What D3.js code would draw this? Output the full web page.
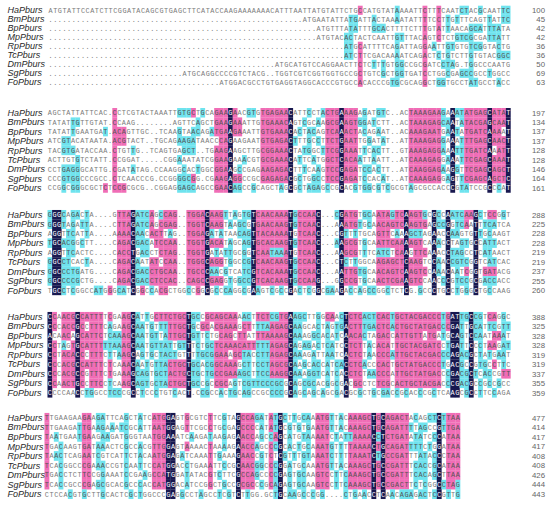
<!DOCTYPE html>
<html>
<head>
<meta charset="utf-8">
<script src="https://cdn.jsdelivr.net/npm/d3@7.9.0/dist/d3.min.js"></script>
<style>
  body { margin: 0; background: #fff; }
</style>
</head>
<body>
<svg id="chart" width="550" height="505"></svg>
<script>
const rowNames = ['HaPburs', 'BmPburs', 'BpPburs', 'MpPburs', 'RpPburs', 'TcPburs', 'DmPburs', 'SgPburs', 'FoPburs'];
const gap = n => '.'.repeat(n);

// block 1
const seq1 = [
  'ATGTATTCCATCTTCGGATACAGCGTGAGCTTCATACCAAGAAAAAAA' + 'CATTTAATTATGTATTCTGCCATGTATAAAATTCTTTCAATCTACGCAATTC',
  gap(55) + 'ATGAATATTATGATTACTAAAATATTTTCCTTGTTTCAGTTATTC',
  gap(58) + 'ATGTTTATATTTGCACTTTTCTTTGTATTAACAGCATTTATA',
  gap(58) + 'ATGTACACTACTCAATTGTTTACAGTCTCTGTCGCGATTATT',
  gap(64) + 'ATGCATTTTCAGATTAGGAATTGTGTGTCGGTACTG',
  gap(64) + 'ATCTTCGACAAAATCAGACTCTGTCTTGTGTACGGC',
  gap(49) + 'ATGCATGTCCAGGAACTTCTCTTTGTGGCCGCGATCCTAG.TGGCCCAATG',
  gap(29) + 'ATGCAGGCCCCGTCTACG..' + 'TGGTCGTCGGTGGTGCCGCTGTCGCTGGTGATCCTGGCGAGCCGCCTGGCC',
  gap(37) + 'ATGGACGCCTG' + 'TGAGGTAGGCACCCGTGCCACACCCGTGCGCAGGCTGGTGCCTATGCCTACC'
];
const shade1 = [
  '67p 75c 81p 84p 89-90c 93c 98-99c',
  '65-66c 70c 75c 81p 84p 86c 88c 95c 98-99c',
  '65-66c 70-72c 81p 84p 86c 91-93c 95-97c',
  '64-65c 75-76c 81p 84p 88-91c 95-97c',
  '64-65c 67p 75c 81p 83c 86-87c 91-93c 97c',
  '64-65c 67p 75c 81p 84c 86c 91c 97-99c',
  '67p 70c 72c 75-76c 81p 85-87c 91c',
  '67p 72c 75-76c 81p 86c 89-91c 95c',
  '67p 74-75c 81p 84-85c 91-92c 97c'
];
const ends1 = [100, 45, 42, 42, 36, 36, 50, 69, 63];

// block 2
const seq2 = [
  'AGCTATTATTCAC.CCTCGTACTAAATTGTGCTGCAGAAGAACGTGTG' + 'AGAACATTCCTACTGAAAGAGATGTC..ACTAAAGAAGAAATATGAGCATAT',
  'TATATTGTTGTAT.CCAAG........AGTTCAGCTGAAGAAATTGTG' + 'AAACAGTCGCAAGCGAAGTGGATCTT..ACTAAAGAGCAATATACGAGCAAT',
  'TATATTGAATGAT.ACAGTTGC..TCAAGTAACAGATGAAGAAATTGT' + 'GAAACACTACAGTCAAACTACAGAAT..ACAAAGAATGAATATGATCAAAAT',
  'ATCGTACATAATA.ACGTACT..TGCAGAAGATAACCCAGAAGAATGT' + 'GAGACTTTGCCTTCTGAATTGGATAT..ATTAAAGAGGAAATTTGAGCAACT',
  'TACGTGATACCAA.CTGTTG..TCAGTGAGCT..TGAAGAAGCTTGCG' + 'GAAACTATGGCTTCGGAAATTCACTT..GTAAAGAGGAAATTTGATCAAATT',
  'ACTTGTGTCTATT.CCGGAT.....CGGAAATATCGGAAGAAACGTGC' + 'GAAACATTCATGGCTCACAATTAATT..ATCAAAGAGGAAATTCGAGCAAAT',
  'CCTGAGGGCATTG.CGATATAG.CCAAGGCACTGGCGGAAGCCGAGAA' + 'GAGACTTTCAAGTCCGAGATCCACTT..ATCAAGGAGAAGGTTCGAGCAGCT',
  'CCCGTGGCCCGCC.CTCAACCCG.CCGGGGCGG.CGAAGAGGCCGCGA' + 'GAGACGCTGGCCTCCGAGATCCACAT..ATCAAAGAGGAGTTCGAGCAGCTC',
  'CCGGCGGGCGCTCTCCGCGCG..CGGAGGAGCAGCCGAACAGCCGCAG' + 'CTAGCGCTAGAGCCGCACGTGGCGTCGCGTAGCGCCACCCGTATCCGCCCAT'
];
const shade2 = [
  '14p 28-30c 31p 33c 36-38p 39n 40p 43-44c 46-51p 52n 56c 59c 60-62p 63n 64-66p 68c 71-72c 78-84p 85c 87n 88-89c 90-94p 95n 96-98p 99n',
  '5-6c 14p 32c 36-38p 39n 40-41p 46-51p 52n 55c 58c 60-62p 63n 64-66p 67-68c 70c 78-84p 85-86c 87n 89c 90-94p 95n 96-98p 99n',
  '5c 12c 14-16p 28c 31-32c 35c 36-38p 39n 40-41p 46-51p 52n 54c 56-57c 60-62p 63n 64-66p 68c 71c 78-84p 86c 87n 88c 90-94p 95n 96-97p 99n',
  '3-4c 14-16p 28-31c 37-38p 39n 46-51p 52n 53c 56c 58c 60-62p 63n 64-66p 69c 72c 78-84p 85c 87n 89c 90-94p 95n 96-98p 99n',
  '3-5c 14p 18c 29-31c 36-38p 39n 46-51p 52n 55-56c 59c 60-62p 63n 64-66p 68c 70-71c 78-84p 85c 87n 88-89c 90-94p 95n 97-98p 99n',
  '6c 14p 28c 36-38p 39n 42c 46-51p 52n 54c 57c 60-62p 63n 64-66p 67c 70c 78-84p 86c 87n 89c 90-94p 95n 96-98p 99n',
  '3-6c 14p 18c 29c 32c 36-38p 39n 41c 46-51p 52n 55c 58c 60-62p 63n 64-66p 68-69c 71c 78-84p 85c 87n 88c 90-94p 95n 96-98p 99n',
  '3-6c 14p 28-30c 31p 36-38p 39n 40-41p 46-51p 52n 54c 57-58c 60-62p 63n 64-66p 68c 72c 78-84p 86c 87n 89c 90-94p 95n 96-98p 99n',
  '3c 5-6c 12p 14-16p 28-31c 36-38p 39n 40-41c 44c 50c 52n 54c 56-58c 60c 63n 66c 68-69c 71c 73c 78c 87n 89-90c 95n 97c 99n'
];
const ends2 = [197, 134, 137, 137, 128, 128, 146, 164, 161];

// block 3
const seq3 = [
  'GGGCAGACTA....GTTAGATCAGCCAG..TGGACAAGTTAGTGTCAA' + 'CAAATGCCAAC...CGATGTGCAATAGTCAAGTGCGCCAATCAAGCTCCGGT',
  'GGGTAGATTA....CTTAGATCAGCGAG..TGGTCAAGTAAGCGTGAA' + 'CAAGTGTCAAC...AAATGTGCAACAGTCAAGTGAGCCGGTCAATTTCATCA',
  'AGGTTCATTA....AAAACAACACTTAG..TGGAGATATAACAGTTAC' + 'AAAATGTCAAC...CGTTTTGCAGTTCAAAGCTAGAACCAAGTGTTGCAAGT',
  'TGCACGGCTT....CAGACGACATCCAA..TGGTGACATAGCAGTGCA' + 'CAAGTGTCAAC...AAGCGTGCAATTCAAAAGTCAAACCTAGTGCCATTACT',
  'AGGTTCACTC....CACCTGACCTCTAG..TGGTGATATTGCGGTCAA' + 'TAAATGTCAAC...AAGCGTTTCATCTCAAGTTCAAACCTAGCCTCATAACT',
  'GGCCTCACTA....CAGACAATATCCAA..TGGGCAGGTGGCCGTCAA' + 'CAAGTGCCAAC...CTCTTGGCAAGAGCTCAAGTCCAACCGTCGGTCATCAC',
  'GGCCCTGATG....CAGACGACCTGCAA..TGCCCAACGTCATCGTCA' + 'CAAATGCCAAC...AATTGTGCAACAGTCAAGTCCAAACAATCGGTGATACG',
  'GGCCCCGCTG....CAGACGACCTCCAC..CAGCCGAGGTGGCCGTCA' + 'CAAGTGCCAAG...GGCCGTGCAACTCGAAGTCCAACCCGTCCGCGACCACC',
  'TGCCTCGGCCATGGGCATCGGCCACGCTGGCCGGCGCCCAGGCGAAGT' + 'CGCCGACTCGGCGAAGACCAGCCGGCTCTCG.GCCCTGCCTGGGCTGCCAAG'
];
const shade3 = [
  '0c 1-2n 3c 5-6c 8c 15-17p 18n 19-21c 22p 24c 25-27p 30-33p 34n 35-37p 38c 40c 42-43c 44n 45-51p 52n 53c 54-57p 58n 62c 63n 64-66p 68-69c 71-73p 74c 75-76p 77n 78-80p 81c 83n 84c 86n 87-89c 90-91p 92n 93c 95-96p 98c',
  '0c 1-2n 3c 5c 7-8c 15-17p 18n 19-21c 22p 24-27p 30-33p 34n 35-37p 39c 41-42c 44n 45-51p 52n 53c 54-57p 58n 63n 64-66p 67c 69c 71-76p 77n 78-81p 83n 84-85c 86n 88-89c 90p 92n 94-96c',
  '1-2n 4-5c 8c 15-17p 18n 19-20c 22-24p 26c 30-33p 34n 35c 37c 41-43c 44n 45-51p 52n 54-57p 58n 63n 64c 66c 71-73p 75c 77n 78-80c 83n 86n 87-88c 92n 93c 95c',
  '0c 1-2n 3-5c 7c 15-17p 18n 19-21c 23-27p 30-33p 34n 35-37p 39c 42-43c 44n 45-51p 52n 53c 54-57p 58n 62c 63n 64-66p 68c 71-76p 77n 78-80p 83n 84c 86n 89-90c 92n 94-96c',
  '1-2n 4-5c 15-17p 18n 20-21c 24-27p 30-33p 34n 36c 38-39c 42c 44n 45-47p 48-50c 51p 52n 54-57p 58n 63n 64-66p 68c 71-73c 75-76p 77n 79-81p 83n 86n 87-89c 92n 94-95c',
  '0c 1-2n 3-4c 8c 15-17p 18n 19c 22-23p 25-27p 30-33p 34n 35-37p 39c 42-43c 44n 45-51p 52n 53c 54-57p 58n 63n 64c 66c 71-76p 77n 78-80p 83n 84c 86n 87-90c 92n 95-96c',
  '0c 1-2n 3-6c 15-17p 18n 19-21c 22-27p 30-33p 34n 35-36c 38c 42-43c 44n 45-51p 52n 53c 54-57p 58n 63n 64-66p 67-68c 71-76p 77n 78-81p 83n 84c 86n 88c 90p 92n 94-96p',
  '0c 1-2n 3-6c 15-17p 18n 19-21c 22-27p 30-33p 34n 35-37p 39c 41-43c 44n 45-51p 52n 53c 54-57p 58n 63n 64-66p 68c 71-76p 77n 78-80p 83n 85c 86n 88-90c 92n 94-96c',
  '1-2n 3c 5c 10-11c 13p 15-16c 18n 20p 22c 24-25p 30c 32p 34n 36c 38-39c 42c 44n 45c 48c 50c 52n 54c 56c 58n 60-61c 63n 65c 67c 69-70c 73c 77n 80c 83n 86n 88c 90c 92n 95c'
];
const ends3 = [288, 225, 228, 228, 219, 219, 237, 255, 260];

// block 4
const seq4 = [
  'CCAACGCCATTTTCGAAGCATTGCTTCTGCTGCCGCAGCAAAACTTCT' + 'CGTGAAGCTTGGCAACTCTCACTCACTGCTACGACCCTGATTGCCGTCAGGC',
  'CCCACCGCCTTTCAGAAGCAATGTTTTTGCTGCGCACGAAAGCTTTTA' + 'AGAGCAAGCACTAGTGACTTTGACTCACTGCTATGACCCGATTGCATTCGTT',
  'ACAACAGCATTCTCAAAGCAATGTTATTGCTGTTCTGCAGCTTATTTA' + 'AAAGCAAAGGCACATCAACACTAGACCATTGTTATGATGCAGTCCAATAAAT',
  'CCTAGTGCATTTTTAAAGCAATGTTATTGTTTCTGCTCAAACATTTTT' + 'AGAGCAGAGACTCATCCTCTTACACATTGCTACGATCCTGATTCCCTAAGAT',
  'CCTACACCCTTTCTTAAGCAGTGCTACTGTTTTGCGGAAAGCTACCTT' + 'AGAGCAAAGATTAATCACTCTAACCCATTGCTACGACCCAGACGCTATGAAT',
  'CCCACGCCATTTCTCAAACAATGTTACTGCTGCACGGCAAAGCTTCCT' + 'AGCGCAAGCACCATCACCTCACCCACTGCTATGACCCTGACGCCGTGCCTTC',
  'CCCACGCCGTTTCTGAAAGCAGTGCTACTGCTGCTGCCGAAAGCTTCC' + 'AAGGCAAAGGTCATCACCTCTAACCCATTGCTATGACCCGACGCTCACCGTT',
  'CCAACTGCCTTCCTCAAGCAGTGCTACTGCTGCCGCCGCAGTCGTTCC' + 'CGCGCAGCGCACGGCGACGCCTCTCGCACTGCTACGACCCGACGCCGCCGCC',
  'CCCCAACCTGGCCTCCCGCCTCCCTGTCACT.CCGCCACTGCAGCCGC' + 'CCCGCAGCAGCAGCGACGCGCTGCGACCGCACCCGCTCAAGCGCCTTCCAGA'
];
const shade4 = [
  '0n 1p 3-5p 6n 7p 8-11p 13p 16-17p 18n 19c 21c 23-25p 26-29p 30n 31-32c 34-35p 36-40p 42-43c 45-47p 48-49c 50-51p 52n 53c 54-55c 58c 60-61p 63c 64n 65-67p 68-70c 71-73p 74c 75-84p 85c 86p 87-88n 89-90c 91n 92-93c 95-96p 98c',
  '0n 1p 3-5p 6n 7p 9-11p 13c 16-17p 18n 19-20c 22c 24-25c 26-29p 30n 31c 33-34p 36-40p 42-43p 45-47c 48-51p 52n 53c 54c 58c 60c 62-63c 64n 65-67p 68-70c 71-73p 74c 75-84p 85c 86p 87-88n 89c 91n 92-93c 95-96c 98-99c',
  '0n 3-4p 6n 7p 8-11p 13-15c 16-17p 18n 19-20c 22-23c 25c 26-29p 30n 31-32c 34c 37-39p 41-42p 45-47p 48-51p 52n 53-54c 57-58c 60c 62c 64n 65-67p 68c 71-73p 75-80p 82-83p 85c 87-88n 89c 91n 92-93c 96-97p 98c',
  '0n 1p 3c 5p 6n 7p 8-11p 12-15c 16-17p 18n 19-20c 22-25c 26c 28-29c 30n 32c 34-35c 36-40p 41-44p 45-47c 48-51p 52n 53c 55-56c 58c 60-61c 64n 65-67p 69c 71-73p 75-84p 86c 87-88n 89c 91n 93c 95-96p 98-99c',
  '0n 1p 3-5p 6n 7p 9-11p 13c 15c 16-17p 18n 20c 22c 24-25c 26-27c 30n 32-35c 36-38p 40-41p 42-43c 45-47c 48-51p 52n 53-54c 57c 60-61c 64n 65-67p 69c 71-73p 74c 75-84p 85-86c 87-88n 89-90c 91n 93c 95c 97-98c',
  '0n 1p 3-5p 6n 7p 8-11p 13p 16-17p 18n 19c 21c 23-25c 26-29p 30n 31-32c 34-35c 36-40p 42-43c 45-47c 48-51p 52n 53c 55c 57-58c 60c 62-63c 64n 65-67p 68c 71-73p 75-84p 85c 87-88n 89c 91n 93-94c 96p 98c',
  '0n 1p 3-5p 6n 7p 9-11p 13p 16-17p 18n 19-21c 23-25c 26-29p 30n 31-32c 34-35c 36-40p 41-43c 45-47c 48-51p 52n 53-54c 56-58c 60c 62c 64n 65-67p 69-70c 71-73p 75-84p 86c 87-88n 89-90c 91n 92c 94-95c 98-99p',
  '0n 1p 3-5p 6n 7p 9-11p 13c 16-17p 18n 19-21c 23-25c 26-29p 30n 31-32c 34c 36-38p 40c 42-44c 45-47c 48-50c 52n 53c 55-57c 60c 62c 64n 66-67p 71-73p 75-84p 86c 87-88n 89-90c 91n 93c 95c 97c',
  '0n 6n 8-9c 13-15c 18n 20c 23c 27c 30n 33-34c 37c 39-40c 42-43c 48-50c 52n 53c 55c 57c 59c 62c 64n 67c 70c 72-73c 75c 77c 80c 83c 87-88n 90c 91n 93c 96c'
];
const ends4 = [388, 325, 328, 328, 319, 319, 337, 355, 359];

// block 5
const seq5 = [
  'TTGAAGAAGAAGATTCAGCTATCATGGAGTGCGTCTTCGTAGCCAGAT' + 'ATGCTTGCAAATGTTACAAAGCTGCAGACTACAGCTCTTAA',
  'TTGAAGATTGAAGAAATCGCATTAATGGAGTTCGCCTGCGAGCCCCAT' + 'ATGCGTGTGAATGTTACAAAGCTGCAGATTTTAGCCGTTGA',
  'TAATGAATGAAGAAGATGGGTAATGGAAATCAAGATAAGAGAACCAGC' + 'CAGCATGTAAAATCTATTAAAACCTCTGATATATCCCATAA',
  'TGACAAGTGATAAACTCGCCACGTTGGAGTAAAACTAAAAGAACCAGC' + 'CCGCACTGCAAATGTTTTAAAACTGCAGATTTTCTGGATAA',
  'TAACTCAGAATCGTCATTCTACAATGGAGATCAAATTGAAAGAACCGT' + 'CTCGTTTGTAAATCTTTTAAATCTGCCGATTTATACCCTAA',
  'TCACGGCCCGAAACCGTCAATTCCATGGACCTGAAATTCCGCAACGGC' + 'CCGGATGCAAATGTTACAAAGCTGCCGATTTCACCGCATAA',
  'TGACCTCTTCCGGAAATCCGAAGCCATGGATATACGTCTTCGCCAGCC' + 'CCGAGTGCAAGTCCTTCAAAGCTGCCGATTTCACAGCTTAA',
  'TCACCGCCCGAGCGCACGCCCACCATGGACATCCGGCTGCCGCGCCCG' + 'CAGAGTGCAAGTCCTTCAAAGCTGCCGACTTCTCGGCCTAG',
  'CTCCACGTGCTTGCACTCGCTGGCCCGAGGCCTAGCCTCGTCTTGG.G' + 'CTGCAAGCCCGG....CTGAACCTCAACAGAGACTCCGTTG'
];
const shade5 = [
  '0p 8-9p 11-12c 17c 20c 23-25p 26-27n 30p 35p 38c 41n 42-44p 45-46c 48p 49c 50n 51c 53c 55-56c 58-60p 61c 63c 65-69p 70n 71p 72n 73-77p 79c 82-83c 84n 85c 86-88p',
  '0p 7c 8-9p 11-12c 14c 16-17c 20c 23-25p 26-27n 30p 35p 38c 41n 42-44p 46c 48p 49c 50n 52c 54c 56c 58-60p 61c 63c 65-69p 70n 71p 72n 73-77p 78c 80-81c 84n 85c 86-88p',
  '0p 2c 7c 8-9p 12-13c 17c 23-25p 26-27n 31c 35c 38c 41n 42-44p 46c 48c 49p 50n 52c 55-56c 58-60p 62c 64-65c 66-69p 70n 71c 72n 73-77p 79-80c 83c 84n 86-88p',
  '0p 3c 8-9p 11-12c 17c 20c 23-25p 26-27n 30p 35p 38c 41n 42-44p 45c 48p 49c 50n 52c 54c 56c 58-60p 61c 63c 65-69p 70n 71p 72n 73-77p 78-80c 82c 84n 86-88p',
  '0p 2-3c 8-9p 11c 17c 20c 23-25p 26-27n 29c 35p 37c 41n 42-44p 46c 48p 50n 51c 53c 55-56c 58-60p 61c 63c 65-69p 70n 71c 72n 73-77p 80-81c 83c 84n 86-88p',
  '0p 3c 8-9p 11-12c 17c 20c 23-25p 26-27n 30c 35p 38c 41n 42-44p 45-46c 48p 49c 50n 52c 55c 58-60p 61c 63c 65-69p 70n 71p 72n 73-77p 79-81c 83c 84n 86-88p',
  '0p 3c 8-9p 12c 17c 21c 23-25p 26-27n 30c 35p 37c 41n 42-44p 45c 48p 49c 50n 52c 54-55c 58-60p 62c 64c 65-69p 70n 71p 72n 73-77p 79-81c 83c 84n 86-88p',
  '0p 3c 8-9p 11-12c 17c 20c 23-25p 26-27n 30c 35p 38c 41n 42-44p 46c 48p 49c 50n 52c 54-55c 58-60p 62c 64c 65-69p 70n 71p 72n 73-77p 79c 81c 84n 85c 86-87p 88c',
  '5c 8c 12c 18c 20c 26-27n 29c 33c 37c 39c 41n 43c 49c 50n 52-53c 55c 57c 59c 64c 66c 68c 70n 72n 74c 76-78c 80-81c 83c 84n 86c 88c'
];
const ends5 = [477, 414, 417, 417, 408, 408, 426, 444, 443];

// layout of each block (position and column pitch differ slightly)
const blocks = [
  { seqs: seq1, shades: shade1, ends: ends1, top: 10.2, step: 9.0, x0: 48.3, cw: 4.62 },
  { seqs: seq2, shades: shade2, ends: ends2, top: 112.7, step: 9.4, x0: 47.5, cw: 4.63 },
  { seqs: seq3, shades: shade3, ends: ends3, top: 214.7, step: 9.45, x0: 47.5, cw: 4.63 },
  { seqs: seq4, shades: shade4, ends: ends4, top: 316.7, step: 9.5, x0: 47.5, cw: 4.63 },
  { seqs: seq5, shades: shade5, ends: ends5, top: 417.7, step: 9.55, x0: 44.5, cw: 4.67 }
];

const colors = { c: '#6ee3ee', p: '#f06db6', n: '#18184f' };

function parseShade(spec, len) {
  const arr = new Array(len).fill('');
  spec.trim().split(/\s+/).forEach(tok => {
    const m = tok.match(/^(\d+)(?:-(\d+))?([cpn])$/);
    if (!m) return;
    const a = +m[1], b = m[2] ? +m[2] : a;
    for (let i = a; i <= b && i < len; i++) arr[i] = m[3];
  });
  return arr;
}

const svg = d3.select('#chart');

blocks.forEach((blk, bi) => {
  const cw = blk.cw;
  const x = d3.scaleLinear().domain([0, 1]).range([blk.x0, blk.x0 + cw]);
  const y = d3.scaleLinear().domain([0, 1]).range([blk.top, blk.top + blk.step]);
  const g = svg.append('g').attr('class', 'block-' + bi);

  const cells = [];
  blk.seqs.forEach((s, r) => {
    const sh = parseShade(blk.shades[r], s.length);
    for (let c = 0; c < s.length; c++) {
      cells.push({ r, c, ch: s[c], shade: s[c] === '.' ? '' : sh[c] });
    }
  });

  // shading boxes
  g.selectAll('rect')
    .data(cells.filter(d => d.shade))
    .join('rect')
    .attr('x', d => x(d.c))
    .attr('y', d => y(d.r) - blk.step / 2)
    .attr('width', cw + 0.2)
    .attr('height', blk.step + 0.15)
    .attr('fill', d => colors[d.shade]);

  // residues
  g.selectAll('text.res')
    .data(cells)
    .join('text')
    .attr('class', 'res')
    .attr('x', d => x(d.c) + cw / 2)
    .attr('y', d => y(d.r) + 2.4)
    .attr('text-anchor', 'middle')
    .attr('font-family', 'Liberation Mono, monospace')
    .attr('font-size', 6.8)
    .attr('fill', d => d.shade === 'n' ? '#fff' : (d.shade ? '#555' : '#7a7a7a'))
    .text(d => d.ch);

  // sequence names
  g.selectAll('text.name')
    .data(rowNames)
    .join('text')
    .attr('class', 'name')
    .attr('x', 7.5)
    .attr('y', (d, i) => y(i) + 3.2)
    .attr('font-family', 'Liberation Sans, Arial, sans-serif')
    .attr('font-style', 'italic')
    .attr('font-size', 9)
    .attr('fill', '#2a2a2a')
    .text(d => d);

  // end positions
  g.selectAll('text.end')
    .data(blk.ends)
    .join('text')
    .attr('class', 'end')
    .attr('x', 545)
    .attr('y', (d, i) => y(i) + 2.8)
    .attr('text-anchor', 'end')
    .attr('font-family', 'Liberation Sans, Arial, sans-serif')
    .attr('font-size', 7.8)
    .attr('fill', '#666')
    .text(d => d);
});
</script>
</body>
</html>
